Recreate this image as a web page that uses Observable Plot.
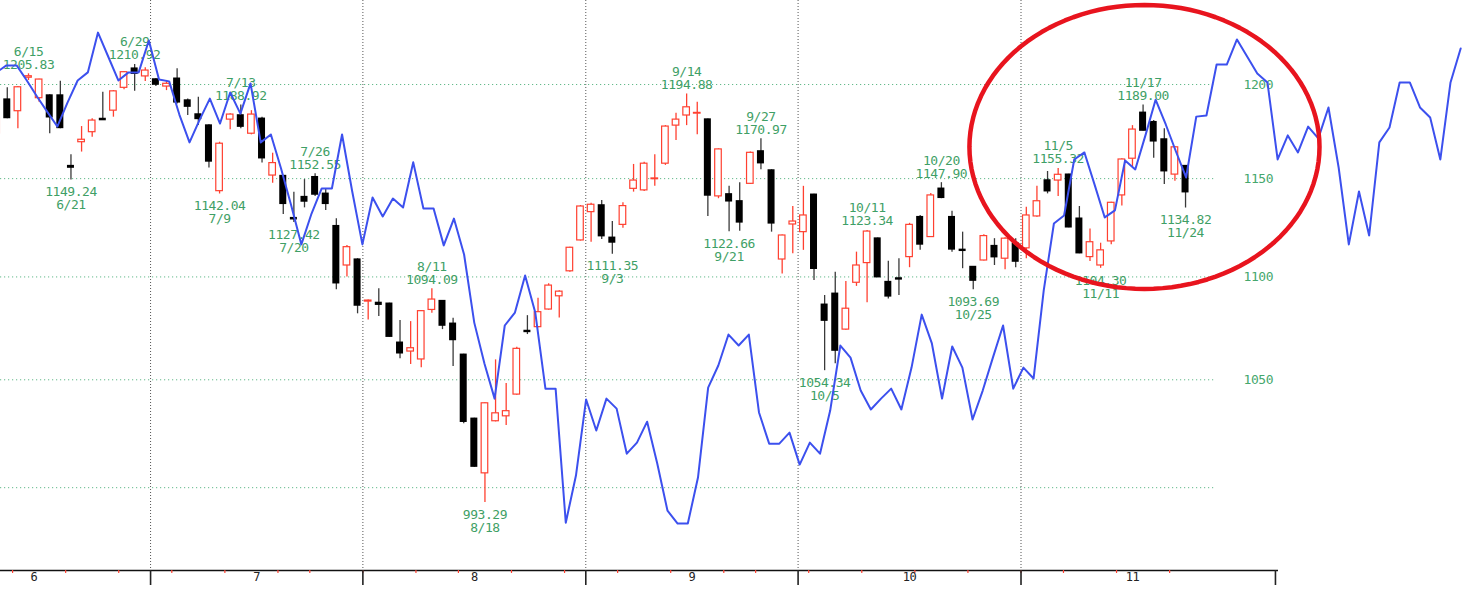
<!DOCTYPE html>
<html><head><meta charset="utf-8">
<script src="https://cdn.jsdelivr.net/npm/d3@7"></script>
<script src="https://cdn.jsdelivr.net/npm/@observablehq/plot@0.6"></script>
<style>
html,body{margin:0;padding:0;background:#fff;overflow:hidden;}
#chart svg text{letter-spacing:-0.45px;}
</style></head><body><div id="chart"></div>
<script>
// ---- data ----
const year = 2021;
const dates = ["6/10","6/11","6/14","6/15","6/16","6/17","6/18","6/21","6/22","6/23","6/24","6/25","6/28","6/29","6/30",
"7/1","7/2","7/5","7/6","7/7","7/8","7/9","7/12","7/13","7/14","7/15","7/16","7/19","7/20","7/21","7/26","7/27","7/28","7/29","7/30",
"8/2","8/3","8/4","8/5","8/6","8/10","8/11","8/12","8/13","8/16","8/17","8/18","8/19","8/20","8/23","8/24","8/25","8/26","8/27","8/30","8/31",
"9/1","9/2","9/3","9/6","9/7","9/8","9/9","9/10","9/13","9/14","9/15","9/16","9/17","9/21","9/22","9/24","9/27","9/28","9/29","9/30",
"10/1","10/4","10/5","10/6","10/7","10/8","10/11","10/12","10/13","10/14","10/15","10/18","10/19","10/20","10/21","10/22","10/25","10/26","10/27","10/28","10/29",
"11/1","11/2","11/4","11/5","11/8","11/9","11/10","11/11","11/12","11/15","11/16","11/17","11/18","11/19","11/22","11/24"];
const open = [1173.7,1191.8,1185.6,1203.7,1192.6,1194.0,1194.0,1156.5,1169.1,1174.4,1181.4,1185.9,1198.2,1208.6,1204.4,
1202.7,1198.9,1203.1,1191.3,1183.8,1177.9,1143.5,1181.1,1183.3,1173.6,1181.5,1151.6,1151.3,1129.6,1140.4,1150.7,1142.1,1125.5,1105.7,1108.6,
1087.8,1087.1,1086.7,1067.7,1063.5,1059.7,1083.7,1088.0,1076.9,1061.9,1031.6,1006.5,1030.5,1032.8,1043.0,1073.4,1075.3,1083.9,1090.4,1102.8,1118.3,
1132.7,1136.1,1119.6,1126.2,1144.7,1143.9,1149.7,1157.8,1177.9,1183.3,1184.3,1181.1,1140.8,1141.8,1138.2,1147.3,1164.2,1154.2,1108.7,1126.4,
1122.5,1141.6,1086.2,1091.6,1074.1,1097.1,1106.9,1119.2,1097.4,1099.2,1109.9,1130.1,1120.0,1144.7,1130.1,1113.5,1104.9,1108.2,1115.4,1109.1,1116.6,
1114.3,1130.5,1149.0,1149.0,1152.0,1129.3,1109.9,1105.7,1117.8,1141.3,1160.4,1184.7,1179.7,1170.5,1152.1,1156.5];
const high = [1182.7,1198.2,1198.9,1205.83,1202.9,1194.5,1201.8,1162.5,1177.4,1181.5,1195.8,1196.7,1207.1,1210.92,1209.1,
1203.1,1202.2,1208.6,1192.2,1193.1,1178.3,1169.1,1184.2,1188.92,1185.9,1182.4,1163.3,1151.6,1143.0,1149.5,1152.55,1144.7,1129.3,1115.8,1109.1,
1088.6,1094.1,1087.0,1078.5,1078.0,1083.4,1094.09,1088.3,1079.6,1062.2,1031.9,1039.2,1059.5,1048.3,1065.6,1080.9,1089.4,1096.6,1093.2,1114.9,1136.1,
1137.3,1138.7,1127.9,1137.5,1157.4,1158.5,1162.5,1177.9,1184.5,1194.88,1190.4,1181.4,1165.6,1146.1,1147.8,1163.9,1170.97,1154.6,1121.1,1135.6,
1146.0,1141.9,1090.8,1102.3,1097.7,1112.4,1123.34,1119.5,1107.8,1109.1,1127.0,1131.0,1142.3,1147.90,1133.2,1122.5,1105.2,1121.2,1119.2,1119.7,1119.2,
1135.2,1146.0,1153.7,1155.32,1152.3,1135.6,1124.1,1116.9,1137.8,1160.4,1177.9,1189.00,1180.6,1176.2,1166.8,1156.8];
const low = [1172.7,1181.5,1176.2,1202.2,1190.4,1173.6,1176.2,1149.24,1163.9,1171.7,1180.6,1182.4,1197.1,1196.3,1201.7,
1198.9,1196.7,1189.5,1183.3,1177.9,1155.5,1142.04,1175.7,1176.2,1173.0,1158.1,1147.6,1131.5,1127.42,1134.9,1140.8,1133.6,1093.6,1099.9,1081.8,
1078.8,1080.5,1070.4,1060.0,1057.3,1055.7,1082.1,1074.1,1056.3,1029.3,1009.3,993.29,1030.2,1028.5,1042.7,1071.7,1075.0,1083.6,1079.8,1102.3,1118.0,
1117.4,1118.8,1111.35,1124.5,1143.0,1143.3,1146.1,1156.9,1170.0,1177.9,1173.0,1130.5,1139.6,1122.66,1123.0,1146.9,1154.6,1122.5,1101.5,1111.6,
1113.3,1098.2,1054.34,1057.6,1073.8,1095.3,1087.2,1099.7,1089.1,1090.8,1104.6,1113.3,1119.8,1139.6,1112.4,1104.1,1093.69,1108.0,1105.7,1103.6,1104.6,
1109.1,1130.1,1142.1,1140.8,1124.7,1111.6,1107.7,1104.30,1116.1,1135.8,1156.0,1175.0,1160.7,1146.9,1148.6,1134.82];
const close = [1181.7,1182.0,1198.5,1204.5,1202.7,1182.4,1176.7,1155.8,1170.4,1180.6,1180.9,1196.3,1206.7,1205.9,1207.6,
1200.0,1200.4,1190.4,1188.1,1181.5,1159.0,1168.3,1183.8,1177.4,1183.8,1160.7,1158.1,1137.0,1129.1,1138.2,1141.8,1137.0,1096.9,1114.9,1085.9,
1088.3,1086.3,1070.7,1062.7,1065.1,1083.1,1088.8,1076.1,1069.1,1030.3,1009.6,1038.9,1034.2,1035.2,1064.8,1073.0,1082.6,1095.7,1092.7,1114.6,1135.6,
1136.5,1120.5,1117.3,1135.8,1149.0,1157.8,1150.1,1177.4,1181.1,1187.7,1184.7,1141.3,1165.3,1138.3,1127.5,1163.5,1158.1,1127.0,1120.8,1127.9,
1131.0,1104.1,1078.5,1064.0,1084.3,1105.7,1122.8,1099.9,1090.4,1098.8,1126.2,1116.3,1141.3,1140.1,1113.8,1113.1,1098.2,1120.5,1109.9,1119.2,1107.7,
1131.0,1138.3,1143.5,1152.0,1125.0,1111.9,1117.4,1113.3,1137.5,1160.0,1175.8,1175.3,1169.6,1153.9,1166.4,1143.0];
const peakDates = ["6/15","6/29","7/13","7/26","8/11","9/14","9/27","10/11","10/20","11/5","11/17"];
const troughDates = ["6/21","7/9","7/20","8/18","9/3","9/21","10/5","10/25","11/11","11/24"];
// comparison line (blue), one value per step
const compare = [1206.6,1210.4,1210.4,1202.2,1193.5,1185.4,1177.4,1190.2,1202.2,1206.6,
1228.5,1215.3,1202.2,1206.6,1206.6,1224.1,1202.7,1201.7,1183.8,1169.0,
1181.1,1192.4,1179.0,1195.7,1184.3,1200.6,1169.0,1173.2,1155.3,1136.1,
1116.3,1132.0,1144.9,1144.9,1173.2,1143.3,1116.3,1140.2,1130.5,1139.7,
1135.1,1158.5,1134.6,1134.6,1115.8,1129.4,1111.2,1077.5,1057.8,1041.1,
1076.1,1082.4,1100.7,1082.4,1045.8,1045.8,984.3,1005.5,1040.7,1026.2,
1041.1,1036.4,1015.5,1020.6,1030.3,1010.9,989.7,983.9,983.9,1004.6,
1046.3,1056.8,1071.7,1066.4,1071.7,1034.6,1020.1,1020.1,1025.2,1010.5,
1020.6,1015.5,1035.5,1066.4,1060.6,1044.9,1036.0,1041.1,1045.8,1036.0,
1055.8,1081.4,1067.4,1041.1,1065.9,1055.8,1031.3,1044.9,1060.6,1076.1,
1045.8,1055.8,1050.6,1093.3,1126.9,1131.0,1160.0,1163.7,1146.9,1130.0,
1133.6,1159.5,1154.8,1172.7,1191.8,1178.5,1164.2,1150.6,1182.7,1183.3,
1210.9,1210.9,1224.7,1215.3,1206.0,1201.1,1160.0,1172.7,1163.7,1177.4,
1171.1,1187.6,1155.8,1116.3,1143.3,1120.8,1169.0,1176.9,1201.1,1201.1,
1187.6,1182.2,1160.0,1201.1,1219.7];
const compareStart = -0.033;   // trading-day index of first comparison point
const compareStep = 0.958;     // trading days per comparison step
const gridValues = [1200, 1150, 1100, 1050, 1000];
const yTickLabels = [1200, 1150, 1100, 1050];
const monthNames = ["6", "7", "8", "9", "10", "11"];
const monthLabelAt = [3.5, 24.5, 45, 65.5, 86, 107];
const axisEnd = 120.47;
const gridEnd = 114.8;
const highlight = {cx: 108.13, cy: 1166.6, rx: 16.49, ry: 0.0642};

// ---- derived ----
const rows = dates.map((d, k) => ({k, date: d, o: open[k], h: high[k], l: low[k], c: close[k], up: close[k] >= open[k]}));
const toDate = s => { const [m, d] = s.split("/").map(Number); return new Date(year, m - 1, d); };
const monthBounds = [], weekBounds = [];
for (let k = 1; k < dates.length; k++) {
  const a = toDate(dates[k - 1]), b = toDate(dates[k]);
  if (a.getMonth() !== b.getMonth()) monthBounds.push(k - 0.5);
  if (b.getDay() <= a.getDay() || (b - a) > 6 * 864e5) weekBounds.push(k - 0.5);
}
const peaks = peakDates.map(d => rows[dates.indexOf(d)]);
const troughs = troughDates.map(d => rows[dates.indexOf(d)]);
const ellipse = d3.range(0, 361, 3).map(a => {
  const t = a * Math.PI / 180;
  return {k: highlight.cx + highlight.rx * Math.cos(t), v: highlight.cy * Math.exp(highlight.ry * Math.sin(t))};
});

const RED = "#ff4030", BLACKW = "#3a3a3a", GREEN = "#3f9f66", MONO = "DejaVu Sans Mono";
const xDomain = [0.3622, 120.757];
const yDomain = [963.24, 1246.47];

const chart = Plot.plot({
  width: 1467, height: 597,
  marginTop: 0, marginBottom: 27, marginLeft: 0, marginRight: 189,
  x: {type: "linear", domain: xDomain, axis: null},
  y: {type: "log", domain: yDomain, axis: null},
  style: {background: "#fff", overflow: "visible"},
  marks: [
    Plot.ruleX(monthBounds, {stroke: "#555", strokeDasharray: "1,2", strokeWidth: 1}),
    Plot.ruleY(gridValues, {x1: xDomain[0], x2: gridEnd, stroke: "#62b98a", strokeDasharray: "1.2,2.8", strokeWidth: 1}),
    Plot.text(yTickLabels, {y: d => d, text: d => String(d), frameAnchor: "right", dx: -35, textAnchor: "start",
      fill: "#46a76d", fontSize: 13, fontFamily: MONO}),
    // wicks
    Plot.ruleX(rows, {x: "k", y1: "l", y2: "h", stroke: d => d.up ? RED : BLACKW, strokeWidth: 1.3}),
    // bodies
    Plot.rect(rows.filter(d => !d.up), {x1: d => d.k - 0.33, x2: d => d.k + 0.33, y1: "o", y2: "c",
      fill: "#000", insetTop: -0.8, insetBottom: -0.8}),
    Plot.rect(rows.filter(d => d.up), {x1: d => d.k - 0.31, x2: d => d.k + 0.31, y1: "o", y2: "c",
      fill: "#fff", stroke: RED, strokeWidth: 1.2}),
    // labels
    Plot.text(peaks, {x: "k", y: "h", text: d => `${d.date}\n${d.h.toFixed(2)}`, lineAnchor: "bottom", dy: -5,
      fill: GREEN, fontSize: 13, fontFamily: MONO}),
    Plot.text(troughs, {x: "k", y: "l", text: d => `${d.l.toFixed(2)}\n${d.date}`, lineAnchor: "top", dy: 7,
      fill: GREEN, fontSize: 13, fontFamily: MONO}),
    // comparison line
    Plot.line(compare, {x: (d, j) => compareStart + compareStep * j, y: d => d, stroke: "#3c50ee", strokeWidth: 2}),
    // x axis
    Plot.ruleY([yDomain[0]], {stroke: "#111", strokeWidth: 1.5}),
    Plot.ruleX(weekBounds, {stroke: RED, strokeWidth: 1.2, insetTop: 570, insetBottom: -3}),
    Plot.ruleX([...monthBounds, axisEnd], {stroke: "#222", strokeWidth: 1.6, insetTop: 570, insetBottom: -15}),
    Plot.text(monthNames, {x: (d, i) => monthLabelAt[i], text: d => d, frameAnchor: "bottom", dy: 10,
      fill: "#222", fontSize: 12, fontFamily: MONO}),
    // highlight ellipse
    Plot.line(ellipse, {x: "k", y: "v", stroke: "#e8141e", strokeWidth: 4.5})
  ]
});
document.getElementById("chart").appendChild(chart);
</script>
</body></html>
